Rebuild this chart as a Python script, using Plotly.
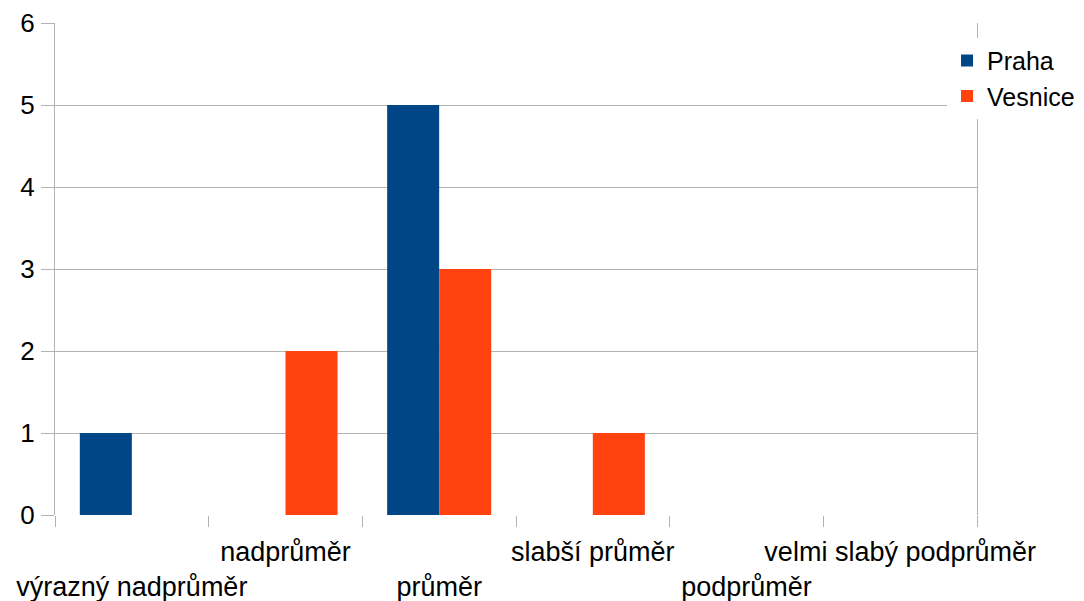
import plotly.graph_objects as go

categories = ["výrazný nadprůměr", "nadprůměr", "průměr", "slabší průměr",
              "podprůměr", "velmi slabý podprůměr"]
praha = [1, 0, 5, 0, 0, 0]
vesnice = [0, 2, 3, 1, 0, 0]
y_ticks = [0, 1, 2, 3, 4, 5, 6]

# staggered labels: even indexes drop to the second row
labels = [("&nbsp;<br>" if i % 2 == 0 else "") + c for i, c in enumerate(categories)]

FONT = "Liberation Sans, Arial, sans-serif"
GRID = "#b3b3b3"
FS = 26

fig = go.Figure()
fig.add_trace(go.Bar(name="Praha", x=labels, y=praha, marker_color="#004586",
                     marker_line_width=0))
fig.add_trace(go.Bar(name="Vesnice", x=labels, y=vesnice, marker_color="#ff420e",
                     marker_line_width=0))

fig.update_layout(
    width=1076, height=593,
    margin=dict(l=47, r=107, t=15, b=86, pad=0, autoexpand=False),
    paper_bgcolor="white", plot_bgcolor="white",
    font=dict(family=FONT, size=FS, color="black"),
    barmode="group", bargap=0.323, bargroupgap=0,
    showlegend=True,
    legend=dict(x=0.9675, xanchor="left", y=0.97, yanchor="top",
                bgcolor="white", font=dict(size=25), borderwidth=0,
                itemclick=False),
)
fig.update_xaxes(
    type="category", tickson="boundaries", ticks="outside", ticklen=11,
    tickcolor=GRID, tickwidth=1, showgrid=False, showline=False,
    zeroline=False, tickfont=dict(size=27), tickangle=0, automargin=False,
    ticklabelstandoff=18,
)
fig.update_yaxes(
    range=[0, 6], tickvals=y_ticks, ticks="outside", ticklen=13,
    tickcolor=GRID, tickwidth=1, showgrid=True, gridcolor=GRID, gridwidth=1,
    showline=True, linecolor=GRID, linewidth=1, mirror=True,
    zeroline=False, tickfont=dict(size=FS), ticklabelstandoff=1,
    automargin=False,
)

fig.write_html("out.html")
